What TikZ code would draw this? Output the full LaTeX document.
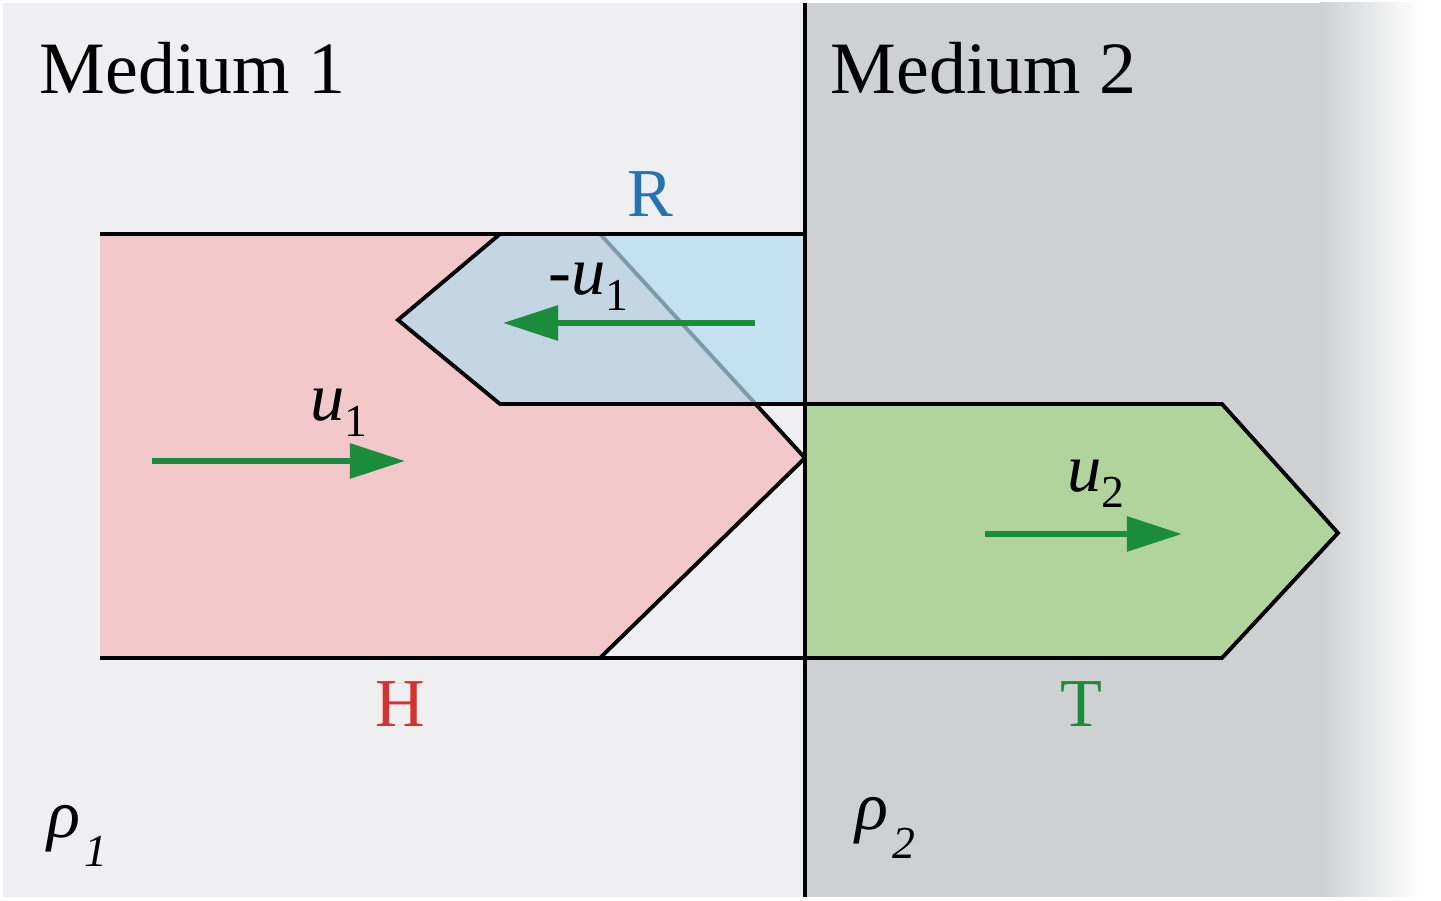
\documentclass[tikz,border=0pt]{standalone}
\usepackage{fontspec}
\setmainfont{Liberation Serif}
\usetikzlibrary{arrows.meta}
\definecolor{mediumone}{RGB}{239,239,241}
\definecolor{mediumtwo}{RGB}{207,208,210}
\definecolor{incfill}{RGB}{242,200,203}
\definecolor{refill}{RGB}{177,220,240}
\definecolor{trfill}{RGB}{176,212,156}
\definecolor{velgreen}{RGB}{27,140,60}
\definecolor{rblue}{RGB}{36,116,181}
\definecolor{hred}{RGB}{215,49,46}
\newcommand{\velo}[2]{\textit{#1}\raisebox{-4.5pt}{\fontsize{13}{13}\selectfont #2}}
\newcommand{\dens}[2]{\textit{ρ}\hspace{1pt}\raisebox{#2}{\fontsize{13}{13}\selectfont\textit{#1}}}
\begin{document}
\begin{tikzpicture}[
    x=0.01cm,y=-0.01cm,
    every node/.style={inner sep=0pt},
    wave/.style={draw=black,line width=1.1pt},
    vel/.style={-{Triangle[length=5.5mm,width=3.4mm]},draw=velgreen,line width=1.7pt},
    big/.style={font=\fontsize{21}{24}\selectfont},
    mid/.style={font=\fontsize{19.5}{22}\selectfont}
]
\useasboundingbox (0,0) rectangle (1441,901);
\fill[white] (0,0) rectangle (1441,901);
\fill[mediumone] (3,3) rectangle (805,897);
\fill[mediumtwo] (805,3) rectangle (1320,897);
\shade[left color=mediumtwo,right color=white] (1320,3) rectangle (1420,897);

\fill[incfill] (100,234) -- (600,234) -- (805,458) -- (600,658) -- (100,658) -- cycle;
\draw[wave] (600,234) -- (805,458) -- (600,658);
\draw[wave] (100,234) -- (805,234);
\draw[wave] (100,658) -- (1222,658);
\filldraw[wave,fill=refill,fill opacity=0.7] (500,234) -- (805,234) -- (805,404) -- (500,404) -- (398,320) -- cycle;
\filldraw[wave,fill=trfill] (805,404) -- (1222,404) -- (1338,533) -- (1222,658) -- (805,658) -- cycle;
\draw[wave] (805,3) -- (805,897);

\coordinate (h0) at (152,461);
\coordinate (h1) at (405,461);
\coordinate (r0) at (755,323);
\coordinate (r1) at (503,323);
\coordinate (t0) at (985,534);
\coordinate (t1) at (1182,534);
\draw[vel] (h0) -- (h1);
\draw[vel] (r0) -- (r1);
\draw[vel] (t0) -- (t1);

\node[big,anchor=base west] (m1) at (39,94) {Medium 1};
\node[big,anchor=base west] (m2) at (830,94) {Medium 2};
\node[mid,anchor=base,text=rblue] (r) at (650,217) {R};
\node[mid,anchor=base,text=hred] (h) at (400,727) {H};
\node[mid,anchor=base,text=velgreen] (t) at (1081,727) {T};
\node[mid,anchor=base west] (ur) at (548,295) {-\velo{u}{1}};
\node[mid,anchor=base west] (uh) at (310,421) {\velo{u}{1}};
\node[mid,anchor=base west] (ut) at (1067,492) {\velo{u}{2}};
\node[mid,anchor=base west] (p1) at (47,838) {\dens{1}{-8pt}};
\node[mid,anchor=base west] (p2) at (855,830) {\dens{2}{-8pt}};
\end{tikzpicture}
\end{document}
